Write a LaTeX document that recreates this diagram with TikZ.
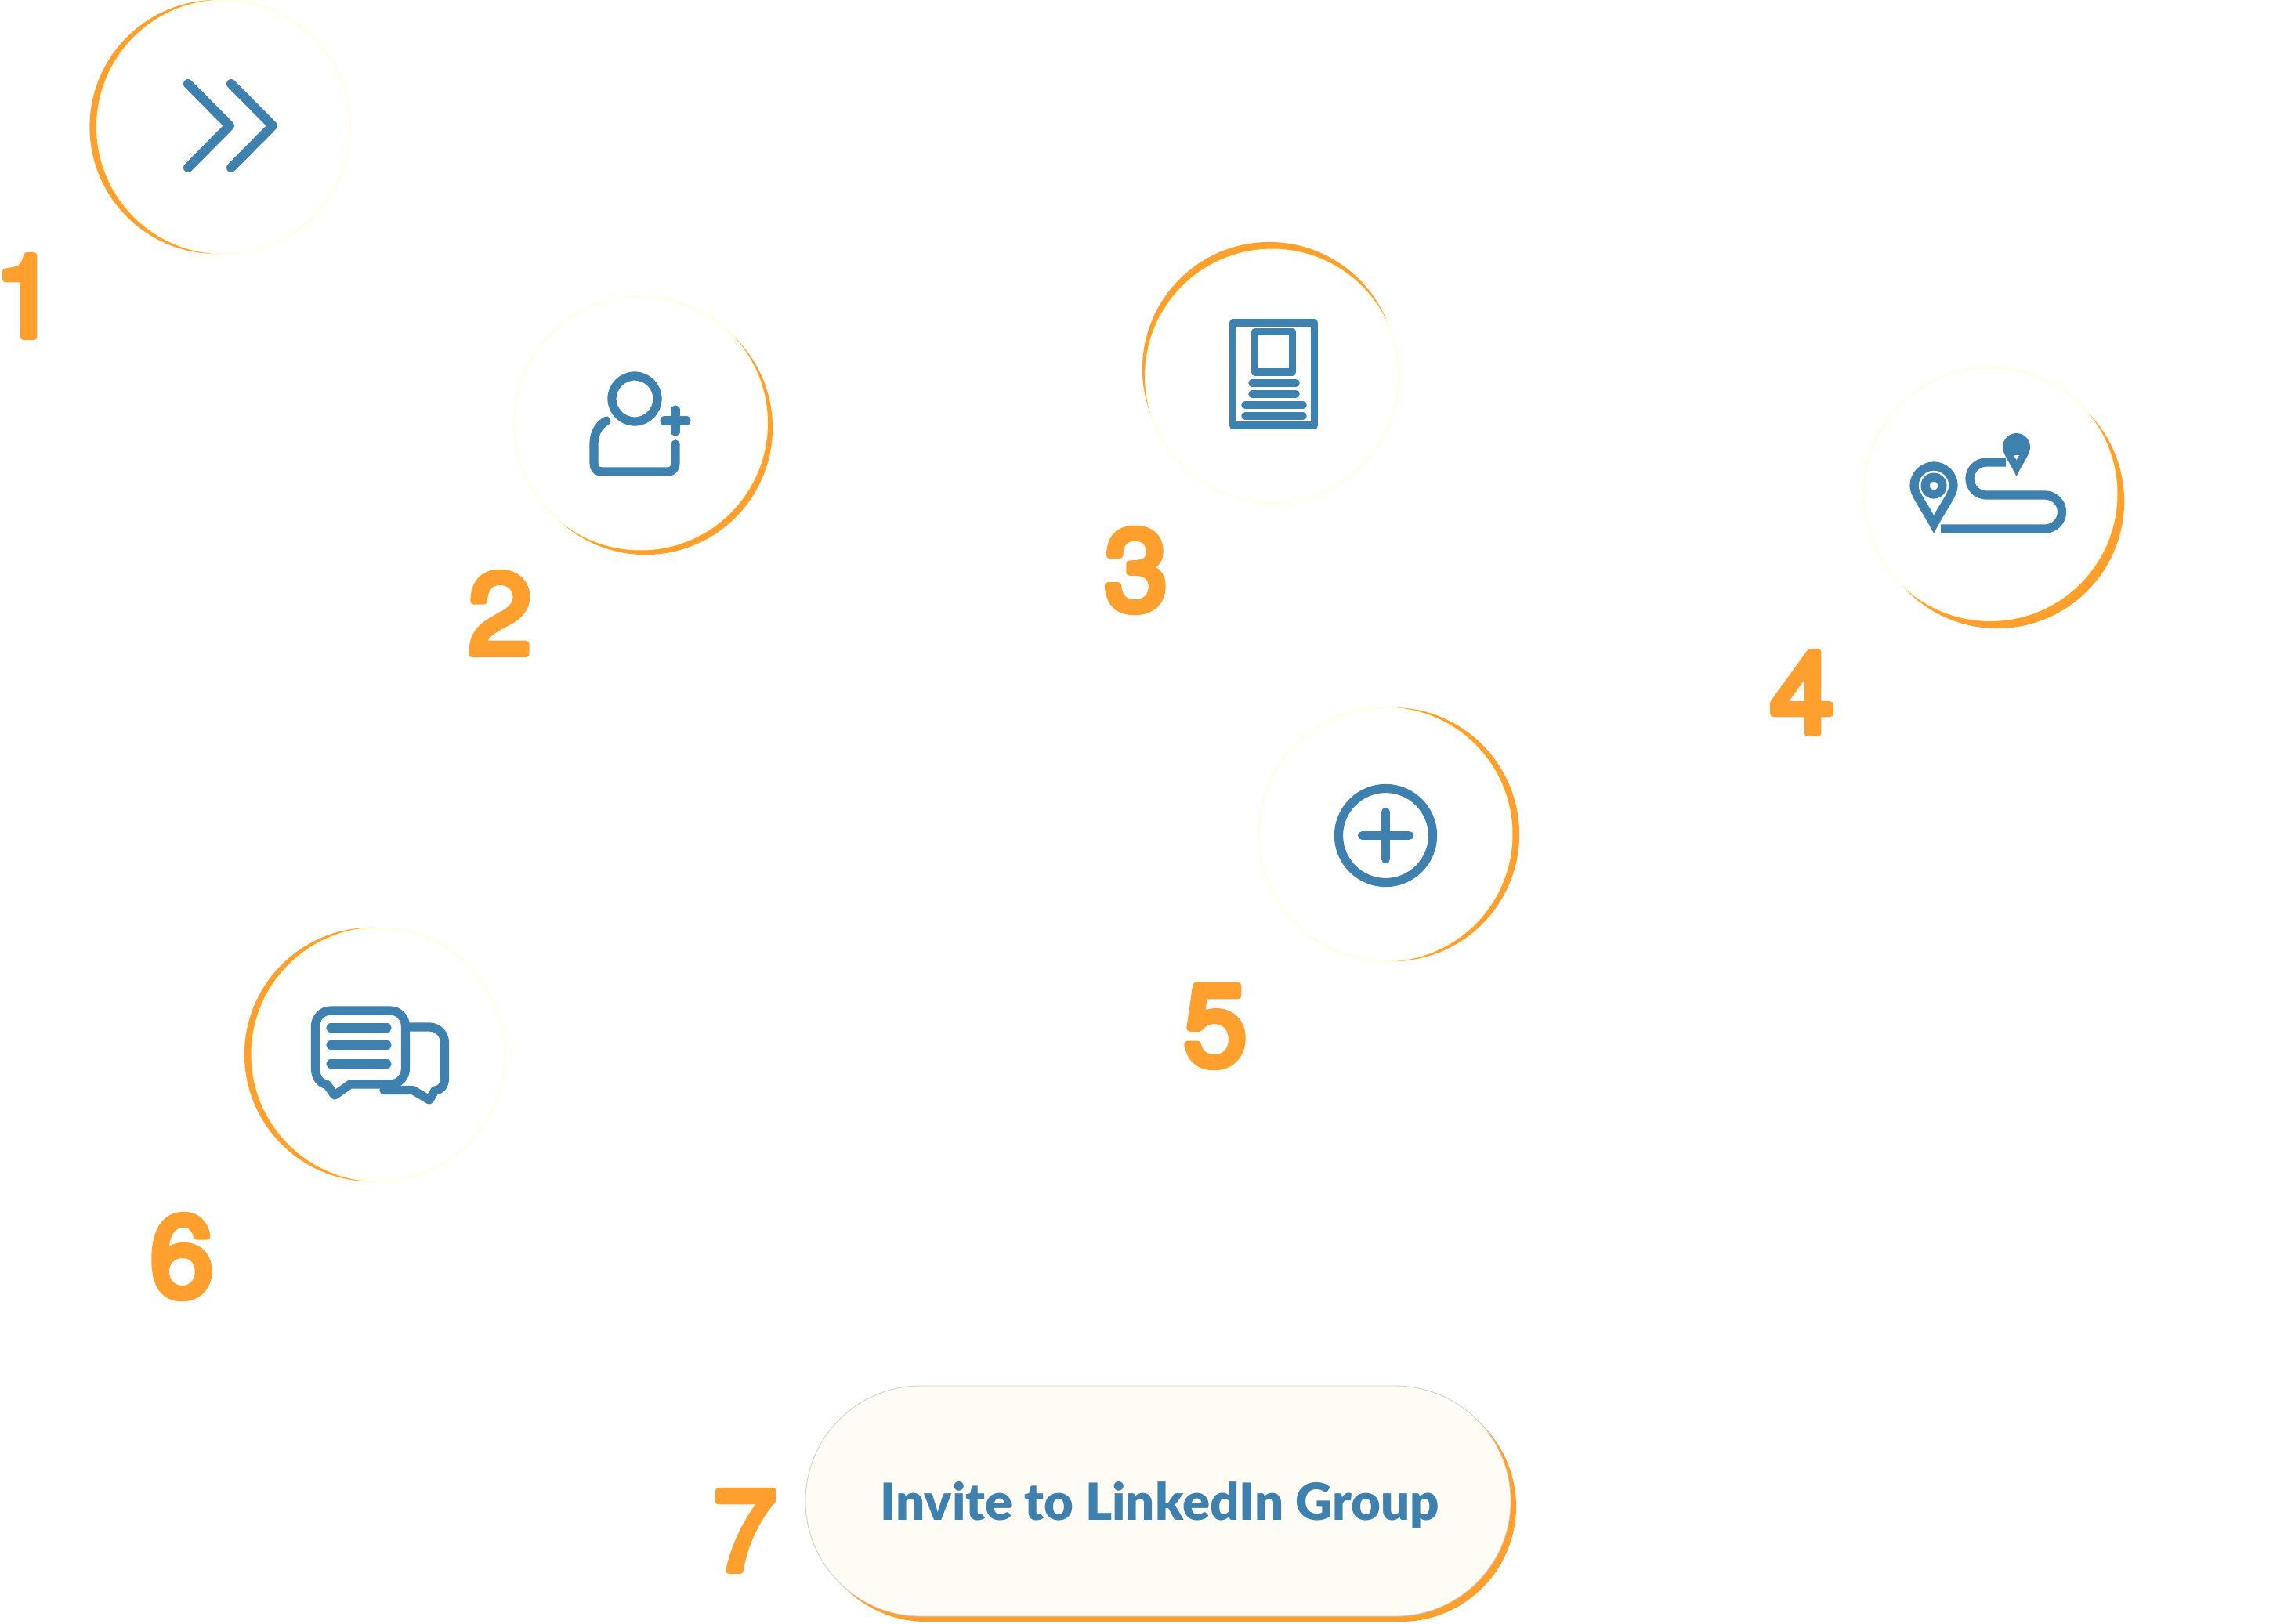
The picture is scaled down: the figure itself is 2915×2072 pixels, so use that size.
\documentclass[tikz,border=0pt]{standalone}
\usepackage{fontspec}
\newfontfamily\digitfont{TeX Gyre Heros}
\newfontfamily\btnfont{Lato Black}
\definecolor{iconblue}{HTML}{3F81AE}
\definecolor{accent}{HTML}{FFA02E}
\definecolor{rimcol}{HTML}{FFFFDD}
\definecolor{pillfill}{HTML}{FFFCF5}
\definecolor{pilledge}{HTML}{D2D0CC}
\newcommand{\strokedigit}[1]{\special{pdf:code 2 Tr 2.5 w 1 j 1 J}#1\special{pdf:code 0 Tr}}
\tikzset{
  halo/.style={circle,fill=accent,draw=none,minimum size=3.24cm,inner sep=0pt},
  disc/.style={circle,fill=white,draw=rimcol,line width=0.5pt,minimum size=3.23cm,inner sep=0pt},
  thick ico/.style={draw=iconblue,line width=3.2pt,line cap=round,line join=round},
  doc ico/.style={draw=iconblue,line width=2.7pt,line cap=round,line join=round},
  num/.style={text=accent,inner sep=0pt,font=\digitfont\fontsize{41.5}{41.5}\selectfont},
}
\begin{document}
\begin{tikzpicture}[x=0.01cm,y=-0.01cm]
\useasboundingbox (0,0) rectangle (2915,2072);
\fill[white] (0,0) rectangle (2915,2072);
% circles
\node[halo] (h1) at (276.5,162) {}; \node[disc] (d1) at (285.5,162) {};
\node[halo] (h2) at (824,546) {};   \node[disc] (d2) at (817.5,540) {};
\node[halo] (h3) at (1620,471) {};  \node[disc] (d3) at (1623.5,480) {};
\node[halo] (h4) at (2549,640) {};  \node[disc] (d4) at (2540,630.5) {};
\node[halo] (h5) at (1777,1065) {}; \node[disc] (d5) at (1768,1065) {};
\node[halo] (h6) at (474,1346) {};  \node[disc] (d6) at (483,1346) {};
% pill
\fill[accent,rounded corners=1.47cm] (1035,1776) rectangle (1935,2070);
\draw[draw=pilledge,line width=0.25pt,fill=pillfill,rounded corners=1.47cm] (1028,1769) rectangle (1928,2063);
\node[text=iconblue,inner sep=0pt,anchor=base west] (btn) at (1123,1940)
  {\resizebox{7.13cm}{!}{\btnfont\fontsize{19}{19}\selectfont Invite to LinkedIn Group}};
% icon 1: chevrons
\draw[thick ico,line width=3.4pt] (240,107) -- (293,160.5) -- (240,214);
\draw[thick ico,line width=3.4pt] (295,107) -- (348,160.5) -- (295,214);
% icon 2: person plus
\draw[thick ico] (810,509) circle[radius=29];
\draw[thick ico] (774,537) .. controls (757,547) and (758,565) .. (758,570) -- (758,590)
  .. controls (758,600) and (763,602) .. (768,602) -- (852,602)
  .. controls (857,602) and (862,600) .. (862,590) -- (862,567);
\draw[thick ico] (862,523) -- (862,551);
\draw[thick ico] (848,537) -- (876,537);
% icon 3: document
\draw[doc ico,line cap=butt] (1573.5,412) rectangle (1677.5,543);
\draw[doc ico,line cap=butt] (1601.5,423.5) rectangle (1649.5,475);
\draw[doc ico] (1598,489) -- (1654,489);
\draw[doc ico] (1598,503) -- (1654,503);
\draw[doc ico] (1589,517) -- (1663,517);
\draw[doc ico] (1589,531) -- (1663,531);
% icon 4: route
\draw[thick ico,line cap=butt] (2477,675) -- (2610,675) arc[start angle=90,end angle=-90,radius=21.5]
  -- (2535,632) arc[start angle=90,end angle=270,radius=21] -- (2560,590);
\draw[thick ico,line cap=butt,line join=miter,miter limit=10] (2468,669) .. controls (2452,640) and (2443,630) .. (2443,620)
  arc[start angle=180,end angle=360,radius=25]
  .. controls (2493,630) and (2484,640) .. (2468,669) -- cycle;
\draw[thick ico] (2468,620) circle[radius=11];
\fill[iconblue] (2573.5,608) .. controls (2565,590) and (2556,580) .. (2556,570.5)
  arc[start angle=180,end angle=360,radius=17.5]
  .. controls (2591,580) and (2582,590) .. (2573.5,608) -- cycle;
\fill[white] (2570,581) -- (2577,581) -- (2573.5,587) -- cycle;
% icon 5: plus in circle
\draw[thick ico] (1768.5,1066.5) circle[radius=60];
\draw[thick ico] (1768.5,1036.5) -- (1768.5,1096.5);
\draw[thick ico] (1738.5,1066.5) -- (1798.5,1066.5);
% icon 6: chat
\draw[thick ico] (422,1290) -- (498,1290) .. controls (509,1290) and (517.5,1299) .. (517.5,1310) -- (517.5,1364)
  .. controls (517.5,1375) and (509,1384) .. (498,1384) -- (447,1384) -- (427,1398) -- (417,1384)
  .. controls (409,1384) and (402.5,1375) .. (402.5,1364) -- (402.5,1310)
  .. controls (402.5,1299) and (411,1290) .. (422,1290) -- cycle;
\draw[thick ico] (422,1312) -- (494,1312);
\draw[thick ico] (422,1334) -- (494,1334);
\draw[thick ico] (422,1358) -- (494,1358);
\draw[thick ico] (523,1311) -- (548,1311) .. controls (559,1311) and (567.5,1320) .. (567.5,1331) -- (567.5,1376)
  .. controls (567.5,1386) and (562,1392) .. (555,1392) -- (548,1404) -- (527,1391.5) -- (490,1391.5);
% digits
\node[num] (n1) at (33,378) {\strokedigit{1}};
\node[num] (n2) at (638,783) {\strokedigit{2}};
\node[num] (n3) at (1450,728) {\strokedigit{3}};
\node[num] (n4) at (2300,884) {\strokedigit{4}};
\node[num] (n5) at (1551,1310) {\strokedigit{5}};
\node[num] (n6) at (232,1604) {\strokedigit{6}};
\node[num] (n7) at (951,1954) {\strokedigit{7}};
\end{tikzpicture}
\end{document}
